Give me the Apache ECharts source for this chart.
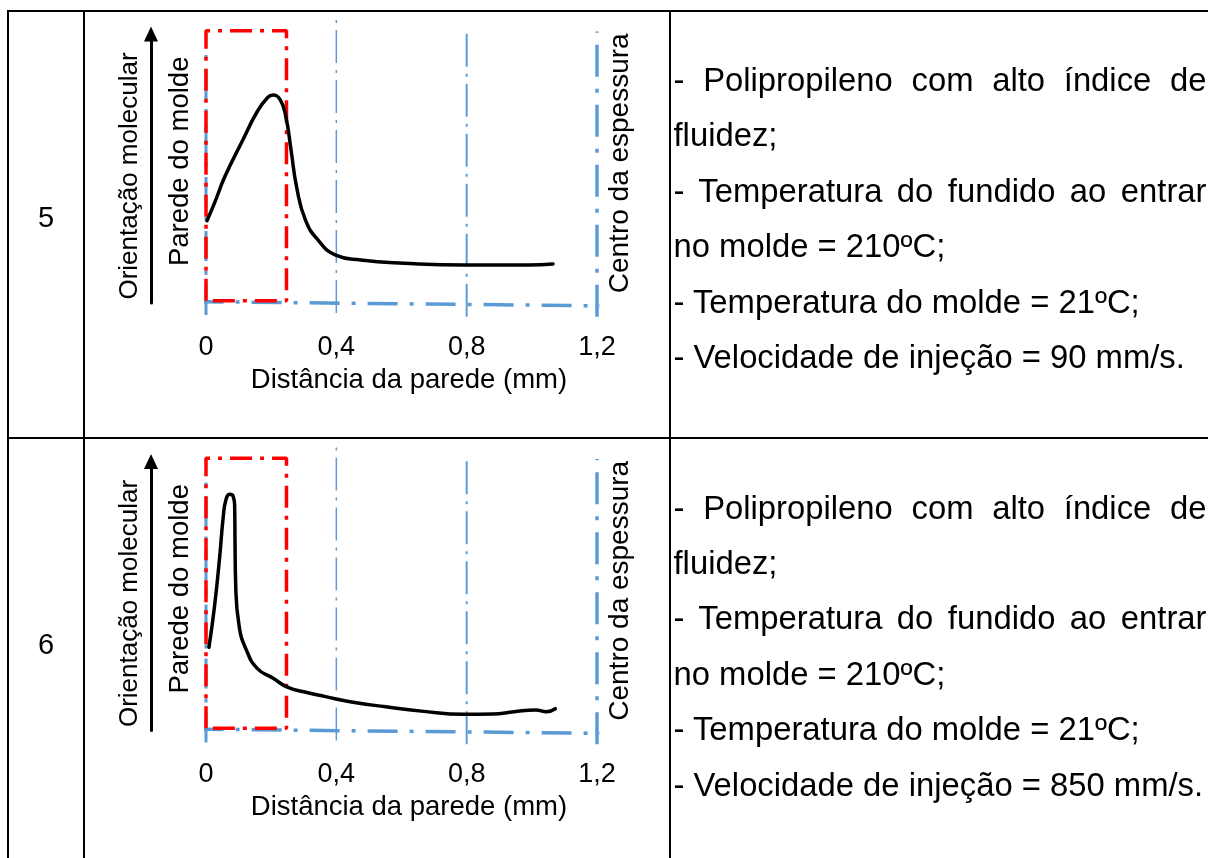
<!DOCTYPE html>
<html>
<head>
<meta charset="utf-8">
<script src="https://cdn.jsdelivr.net/npm/echarts@6/dist/echarts.min.js"></script>
<style>
  html, body { margin: 0; padding: 0; background: #fff; }
  #page { position: relative; width: 1208px; height: 858px; overflow: hidden;
          font-family: "Liberation Sans", Arial, sans-serif; color: #000; }
  #chart { position: absolute; left: 0; top: 0; width: 1208px; height: 858px; }
  .rule { position: absolute; background: #000; }
  .num { position: absolute; left: 9px; width: 74px; text-align: center;
         font-size: 29px; line-height: 29px; }
  .note { position: absolute; left: 673.5px; width: 533px; font-size: 32.8px;
          line-height: 55.4px; height: 55.4px; white-space: nowrap; }
  .note.just { text-align: justify; text-align-last: justify; white-space: normal; }
</style>
</head>
<body>
<div id="page">
  <div id="chart"></div>
</div>
<script>
// ---- data ---------------------------------------------------------------
const rowNumbers = ['5', '6'];
const xTickLabels = ['0', '0,4', '0,8', '1,2'];
const xAxisTitle = 'Distância da parede (mm)';
const yAxisTitle = 'Orientação molecular';
const wallLabel = 'Parede do molde';
const centreLabel = 'Centro da espessura';

// molecular orientation (arbitrary units) vs distance from the wall (mm)
const orientation90 = [
  [0.003, 0.306], [0.026, 0.371], [0.058, 0.470], [0.113, 0.606], [0.157, 0.711],
  [0.190, 0.765], [0.206, 0.773], [0.228, 0.755], [0.245, 0.693], [0.261, 0.569],
  [0.278, 0.432], [0.305, 0.309], [0.344, 0.234], [0.398, 0.178], [0.475, 0.160],
  [0.607, 0.148], [0.793, 0.141], [0.990, 0.141], [1.065, 0.145]
];
const orientation850 = [
  [0.009, 0.309], [0.026, 0.460], [0.042, 0.646], [0.053, 0.795], [0.061, 0.857],
  [0.072, 0.878], [0.083, 0.872], [0.088, 0.832], [0.089, 0.708], [0.091, 0.547],
  [0.102, 0.386], [0.124, 0.299], [0.157, 0.231], [0.206, 0.194], [0.250, 0.161],
  [0.300, 0.144], [0.367, 0.126], [0.442, 0.107], [0.552, 0.088], [0.661, 0.072],
  [0.793, 0.060], [0.881, 0.061], [0.946, 0.070], [1.012, 0.076], [1.045, 0.070],
  [1.072, 0.081]
];

const notes90 = [
  '- Polipropileno com alto índice de',
  'fluidez;',
  '- Temperatura do fundido ao entrar',
  'no molde = 210ºC;',
  '- Temperatura do molde = 21ºC;',
  '- Velocidade de injeção = 90 mm/s.'
];
const notes850 = [
  '- Polipropileno com alto índice de',
  'fluidez;',
  '- Temperatura do fundido ao entrar',
  'no molde = 210ºC;',
  '- Temperatura do molde = 21ºC;',
  '- Velocidade de injeção = 850 mm/s.'
];
const justifiedLines = [0, 2];

// ---- table frame and text cells ---------------------------------------------
const page = document.getElementById('page');
const ROW_STEP = 427.5;

function addRule(l, t, w, h) {
  const d = document.createElement('div');
  d.className = 'rule';
  d.style.cssText = `left:${l}px;top:${t}px;width:${w}px;height:${h}px;`;
  page.appendChild(d);
}
addRule(7, 10, 1201, 2);     // top edge
addRule(7, 437, 1201, 2);    // between rows
addRule(7, 10, 2, 848);      // left edge
addRule(83, 10, 2, 848);     // number column
addRule(669, 10, 2, 848);    // notes column

[notes90, notes850].forEach((lines, r) => {
  const n = document.createElement('div');
  n.className = 'num';
  n.style.top = (202.5 + r * ROW_STEP) + 'px';
  n.textContent = rowNumbers[r];
  page.appendChild(n);
  lines.forEach((txt, k) => {
    const d = document.createElement('div');
    d.className = 'note' + (justifiedLines.includes(k) ? ' just' : '');
    d.style.top = (52 + k * 55.4 + r * ROW_STEP) + 'px';
    d.textContent = txt;
    page.appendChild(d);
  });
});

// ---- charts -------------------------------------------------------------
const FONT = '"Liberation Sans", Arial, sans-serif';
const BLUE = '#5B9BD5';
const RED = '#FF0000';
const chart = echarts.init(document.getElementById('chart'), null, { renderer: 'canvas' });

const grids = [], xAxes = [], yAxes = [], series = [], graphics = [];

function addPanel(i, curve) {
  const top = 34 + i * ROW_STEP;
  grids.push({ left: 206, top: top, width: 391, height: 269 });
  xAxes.push({
    gridIndex: i, type: 'value', min: 0, max: 1.2, interval: 0.4,
    axisLine: { show: false, onZero: false }, axisTick: { show: false }, splitLine: { show: false },
    axisLabel: {
      margin: 31, color: '#000', fontSize: 27, fontFamily: FONT,
      formatter: v => xTickLabels[Math.round(v / 0.4)]
    },
    name: xAxisTitle, nameLocation: 'middle', nameGap: 63,
    nameTextStyle: { color: '#000', fontSize: 27.5, fontFamily: FONT, padding: [0, 0, 0, 15] }
  });
  yAxes.push({
    gridIndex: i, type: 'value', min: 0, max: 1, offset: 55,
    axisLine: { show: true, onZero: false, symbol: ['none', 'triangle'], symbolSize: [14, 15],
                lineStyle: { color: '#000', width: 3 } },
    axisTick: { show: false }, axisLabel: { show: false }, splitLine: { show: false },
    name: yAxisTitle, nameLocation: 'middle', nameRotate: 90, nameGap: 8,
    nameTextStyle: { color: '#000', fontSize: 26, fontFamily: FONT, padding: [0, 15, 0, 0] }
  });

  const base = { type: 'line', xAxisIndex: i, yAxisIndex: i, symbol: 'none',
                 silent: true, clip: false, animation: false };
  const guide = (pts, color, width, dash) => series.push(Object.assign({}, base, {
    data: pts, lineStyle: { color: color, width: width, type: dash }, z: 2
  }));
  // wall, quarter and centre reference lines
  guide([[0, -0.045], [0, 0.959]], BLUE, 3, [30, 10, 4, 10]);
  guide([[0.4, -0.037], [0.4, 1.058]], BLUE, 1.5, [33, 7, 3, 7]);
  guide([[0.8, -0.051], [0.8, 1.009]], BLUE, 2, [33, 7, 3, 7]);
  guide([[1.2, -0.051], [1.2, 1.009]], BLUE, 3.5, [32, 12, 4, 12]);
  // thickness baseline
  guide([[-0.038, 0.005], [1.258, -0.011]], BLUE, 3.5, [30, 12, 4, 12]);
  // skin layer box
  series.push(Object.assign({}, base, {
    data: [[0, 0.0085], [0, 1.012], [0.247, 1.012], [0.247, 0.0085], [0, 0.0085]],
    lineStyle: { color: RED, width: 3.5, type: [22, 8, 4, 8] }, z: 3
  }));
  // orientation profile
  series.push(Object.assign({}, base, {
    data: curve, smooth: 0.5,
    lineStyle: { color: '#000', width: 3.5, cap: 'round', join: 'round' }, z: 4
  }));

  graphics.push({
    type: 'text', x: 180.4, y: 161.3 + i * ROW_STEP, rotation: Math.PI / 2,
    style: { text: wallLabel, fill: '#000', fontSize: 27.5, fontFamily: FONT,
             align: 'center', verticalAlign: 'middle' }
  });
  graphics.push({
    type: 'text', x: 620, y: 163.3 + i * ROW_STEP, rotation: Math.PI / 2,
    style: { text: centreLabel, fill: '#000', fontSize: 28, fontFamily: FONT,
             align: 'center', verticalAlign: 'middle' }
  });
}

addPanel(0, orientation90);
addPanel(1, orientation850);

chart.setOption({
  animation: false,
  backgroundColor: 'transparent',
  grid: grids,
  xAxis: xAxes,
  yAxis: yAxes,
  series: series,
  graphic: graphics
});
</script>
</body>
</html>
